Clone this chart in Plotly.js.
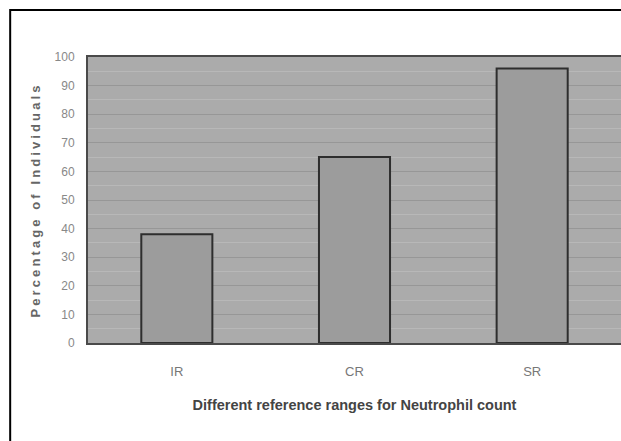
<!DOCTYPE html>
<html>
<head>
<meta charset="utf-8">
<script src="https://cdn.plot.ly/plotly-3.0.1.min.js"></script>
<style>
html,body{margin:0;padding:0;background:#fff;}
#chart{width:621px;height:441px;}
#chart .ytitle{letter-spacing:3.1px;}
</style>
</head>
<body>
<div id="chart"></div>
<script>
const categories = ["IR", "CR", "SR"];
const percentages = [38, 65, 96];
const yTickValues = [0, 10, 20, 30, 40, 50, 60, 70, 80, 90, 100];

const fontFam = "Liberation Sans, Arial, sans-serif";

const trace = {
  type: "bar",
  x: categories,
  y: percentages,
  marker: {color: "#9c9c9c", line: {color: "#2e2e2e", width: 2}},
  width: 0.4,
  hoverinfo: "none"
};

const layout = {
  width: 621,
  height: 441,
  margin: {l: 88, r: 0, t: 57, b: 98, pad: 0},
  paper_bgcolor: "#ffffff",
  plot_bgcolor: "#ababab",
  showlegend: false,
  font: {family: fontFam, color: "#777"},
  xaxis: {
    type: "category",
    range: [-0.5, 2.5],
    showgrid: false,
    showline: true,
    mirror: true,
    linecolor: "#4a4a4a",
    linewidth: 2,
    ticks: "outside",
    ticklen: 15,
    tickcolor: "rgba(0,0,0,0)",
    tickfont: {size: 13, color: "#777", family: fontFam},
    title: {text: "Different reference ranges for Neutrophil count", font: {size: 14.5, color: "#444", family: fontFam, weight: "bold"}, standoff: 22},
    automargin: false,
    fixedrange: true
  },
  yaxis: {
    range: [0, 100],
    tickvals: yTickValues,
    ticktext: yTickValues.map(String),
    showgrid: true,
    gridcolor: "#979797",
    gridwidth: 1,
    minor: {dtick: 5, showgrid: true, gridcolor: "#b8b8b8", gridwidth: 1},
    zeroline: false,
    showline: true,
    mirror: true,
    linecolor: "#4a4a4a",
    linewidth: 2,
    ticks: "outside",
    ticklen: 9,
    tickcolor: "rgba(0,0,0,0)",
    tickfont: {size: 12, color: "#888", family: fontFam},
    title: {text: "Percentage of Individuals", font: {size: 13, color: "#666", family: fontFam, weight: "bold"}, standoff: 11},
    automargin: false,
    fixedrange: true
  },
  shapes: [{
    type: "rect", xref: "paper", yref: "paper",
    x0: -0.146, x1: 1.2, y0: -0.6, y1: 1.164,
    line: {color: "#000", width: 2}, fillcolor: "rgba(0,0,0,0)", layer: "above"
  }]
};

Plotly.newPlot("chart", [trace], layout, {displayModeBar: false, staticPlot: true});
</script>
</body>
</html>
